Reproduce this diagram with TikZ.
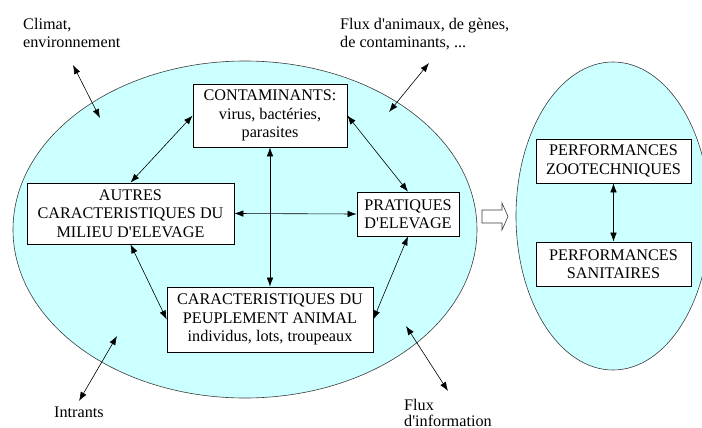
\documentclass[tikz,border=0pt]{standalone}
\usepackage{fontspec}
\setmainfont{Liberation Serif}[Ligatures=TeXOff]
\usetikzlibrary{arrows.meta}
\definecolor{cyanfill}{RGB}{204,255,255}
\definecolor{edgegray}{RGB}{60,60,60}
\begin{document}
\begin{tikzpicture}[x=1pt,y=-1pt,
  txt/.style={font=\fontsize{16.2}{18.3}\selectfont},
  box/.style={txt,draw=black,fill=white,line width=0.7pt,inner sep=0pt,align=center,minimum width=#1},
  lab/.style={txt,inner sep=0pt,align=left},
  link/.style={line width=0.6pt,{Latex[length=9pt,width=6.5pt]}-{Latex[length=9pt,width=6.5pt]}},
  blob/.style={draw=edgegray,line width=0.6pt,fill=cyanfill}]
\useasboundingbox (0,0) rectangle (702,428);
% ellipses
\draw[blob] (245,229.5) ellipse [x radius=232, y radius=168.5];
\draw[blob] (613,216) ellipse [x radius=97, y radius=154];
% hollow arrow
\draw[draw=edgegray,line width=0.6pt,fill=white] (482,210) -- (502,210) -- (502,203) -- (508,216.5) -- (502,230) -- (502,223) -- (482,223) -- cycle;
% boxes
\node[box=154pt,minimum height=63pt] (cont) at (270,115.5) {CONTAMINANTS:\\virus, bactéries,\\parasites};
\node[box=207pt,minimum height=61pt] (autres) at (130.5,213.5) {AUTRES\\CARACTERISTIQUES DU\\MILIEU D'ELEVAGE};
\node[box=102pt,minimum height=44pt] (prat) at (408,214) {PRATIQUES\\D'ELEVAGE};
\node[box=206pt,minimum height=65pt] (peup) at (270,319.5) {CARACTERISTIQUES DU\\PEUPLEMENT ANIMAL\\individus, lots, troupeaux};
\node[box=155pt,minimum height=44pt] (zoot) at (613.5,161) {PERFORMANCES\\ZOOTECHNIQUES};
\node[box=155pt,minimum height=44pt] (sanit) at (613.5,264) {PERFORMANCES\\SANITAIRES};
% outer labels
\node[lab,anchor=north west] (climat) at (23,18) {Climat,\\environnement};
\node[lab,anchor=north west] (fluxa) at (340,18) {Flux d'animaux, de gènes,\\de contaminants, ...};
\node[lab,anchor=base west] (intrants) at (54,417) {Intrants};
\node[lab,anchor=base west] (fluxi) at (404,410) {Flux};
\node[lab,anchor=base west] (info) at (404,426) {d'information};
% free ends
\coordinate (c1) at (73,65);  \coordinate (c2) at (100,118);
\coordinate (f1) at (429,63); \coordinate (f2) at (389,112);
\coordinate (i1) at (117,336); \coordinate (i2) at (79,401);
\coordinate (n1) at (406,326); \coordinate (n2) at (448,391);
% connectors
\draw[link] (c1) -- (c2);
\draw[link] (f1) -- (f2);
\draw[link] (i1) -- (i2);
\draw[link] (n1) -- (n2);
\draw[link] (cont.west) -- (autres.north);
\draw[link] (cont.east) -- (prat.north);
\draw[link] (autres.south) -- (peup.west);
\draw[link] (prat.south) -- (peup.east);
\draw[link] (cont.south) -- (peup.north);
\draw[link] (autres.east) -- (prat.west);
\draw[link] (zoot.south) -- (sanit.north);
\end{tikzpicture}
\end{document}
